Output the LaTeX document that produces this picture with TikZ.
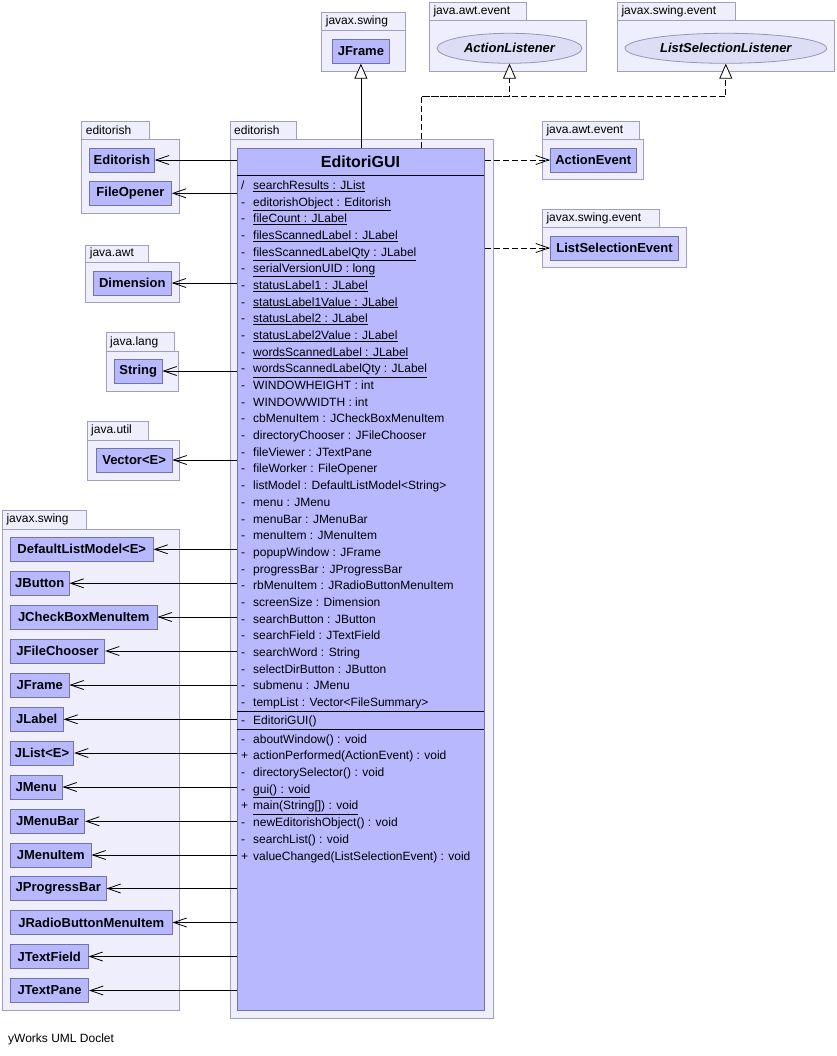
\documentclass[tikz,border=0pt]{standalone}
\usepackage{fontspec}
\setmainfont{Liberation Sans}
\usetikzlibrary{arrows.meta,shapes.geometric}
\definecolor{pkgfill}{RGB}{238,238,252}
\definecolor{pkgline}{RGB}{160,160,190}
\definecolor{clsfill}{RGB}{184,184,255}
\definecolor{clsline}{RGB}{115,115,165}
\definecolor{ellfill}{RGB}{221,221,245}
\definecolor{ellline}{RGB}{150,150,185}
\newcommand\pkgbox[7]{%
  \draw[pkgshape] (#1,#2) rectangle (#3,#4);
  \draw[pkgshape] (#1,#4) rectangle (#5,#6);
  \node[pkglabel] at (#1+4,{(#2+#4)/2}) {#7};}
\newcommand\attrrow[3]{%
  \node[vis] at (241,{189.4+16.68*#1}) {#2};
  \node[member] at (253,{189.4+16.68*#1}) {#3};}
\newcommand\methrow[3]{%
  \node[vis] at (241,{743.1+16.7*#1}) {#2};
  \node[member] at (253,{743.1+16.7*#1}) {#3};}
\begin{document}
\begin{tikzpicture}[x=1pt,y=-1pt,
  pkgshape/.style={fill=pkgfill,draw=pkgline,line width=0.8pt},
  pkglabel/.style={anchor=west,inner sep=0pt,font=\fontsize{12}{14}\selectfont},
  cls/.style={draw=clsline,fill=clsfill,line width=0.8pt,anchor=west,minimum height=24pt,inner xsep=2pt,inner ysep=0pt,font=\bfseries\fontsize{13}{15}\selectfont},
  iface/.style={ellipse,draw=ellline,fill=ellfill,line width=0.8pt,inner sep=0pt,font=\bfseries\itshape\fontsize{13}{15}\selectfont},
  vis/.style={anchor=base west,inner sep=0pt,font=\fontsize{12}{14}\selectfont},
  member/.style={anchor=base west,inner sep=0pt,font=\fontsize{12}{14}\selectfont},
  assoc/.style={line width=0.8pt,-{Straight Barb[length=13pt,width=9pt,line width=0.8pt]}},
  dep/.style={line width=0.8pt,dash pattern=on 6pt off 3pt,-{Straight Barb[length=13pt,width=9pt,line width=0.8pt]}},
  inherit/.style={line width=0.8pt,-{Triangle[length=15pt,width=13pt,open,fill=white,line width=0.8pt]}},
  realize/.style={line width=0.8pt,dash pattern=on 6pt off 3pt,-{Triangle[length=15pt,width=13pt,open,fill=white,line width=0.8pt]}}]
\useasboundingbox[fill=white] (0,0) rectangle (836,1056);
% packages
\pkgbox{321.7}{12.7}{405.7}{30}{405.7}{71.7}{javax.swing}
\pkgbox{429.3}{2.7}{526.7}{20.7}{586.7}{71.7}{java.awt.event}
\pkgbox{617.3}{2.7}{735}{20.7}{834}{71.7}{javax.swing.event}
\pkgbox{81.7}{121.7}{149}{139}{179.5}{213}{editorish}
\pkgbox{230}{121}{296.7}{139}{493}{1018}{editorish}
\pkgbox{542.3}{121.7}{639.3}{139.3}{643.3}{179.3}{java.awt.event}
\pkgbox{542.3}{209.3}{659.3}{227.3}{686}{267.3}{javax.swing.event}
\pkgbox{85.7}{245}{148}{262.7}{179}{302.7}{java.awt}
\pkgbox{106}{332.7}{174}{351.7}{178}{391}{java.lang}
\pkgbox{87}{421.7}{148}{440}{179}{480}{java.util}
\pkgbox{2.3}{510.7}{86}{529}{179.3}{1010}{javax.swing}
% main class
\node[draw=clsline,fill=clsfill,line width=0.8pt,anchor=north west,inner sep=0pt,minimum width=247pt,minimum height=862pt] (gui) at (237,148) {};
\node[font=\bfseries\fontsize{16}{18}\selectfont] (title) at (360.5,161.5) {EditoriGUI};
\draw[line width=0.8pt] (237,175) -- (484,175);
\draw[line width=0.8pt] (237,711) -- (484,711);
\draw[line width=0.8pt] (237,729) -- (484,729);
\attrrow{0}{/}{\underline{searchResults : JList}}
\attrrow{1}{-}{\underline{editorishObject : Editorish}}
\attrrow{2}{-}{\underline{fileCount : JLabel}}
\attrrow{3}{-}{\underline{filesScannedLabel : JLabel}}
\attrrow{4}{-}{\underline{filesScannedLabelQty : JLabel}}
\attrrow{5}{-}{\underline{serialVersionUID : long}}
\attrrow{6}{-}{\underline{statusLabel1 : JLabel}}
\attrrow{7}{-}{\underline{statusLabel1Value : JLabel}}
\attrrow{8}{-}{\underline{statusLabel2 : JLabel}}
\attrrow{9}{-}{\underline{statusLabel2Value : JLabel}}
\attrrow{10}{-}{\underline{wordsScannedLabel : JLabel}}
\attrrow{11}{-}{\underline{wordsScannedLabelQty : JLabel}}
\attrrow{12}{-}{WINDOWHEIGHT : int}
\attrrow{13}{-}{WINDOWWIDTH : int}
\attrrow{14}{-}{cbMenuItem : JCheckBoxMenuItem}
\attrrow{15}{-}{directoryChooser : JFileChooser}
\attrrow{16}{-}{fileViewer : JTextPane}
\attrrow{17}{-}{fileWorker : FileOpener}
\attrrow{18}{-}{listModel : DefaultListModel<String>}
\attrrow{19}{-}{menu : JMenu}
\attrrow{20}{-}{menuBar : JMenuBar}
\attrrow{21}{-}{menuItem : JMenuItem}
\attrrow{22}{-}{popupWindow : JFrame}
\attrrow{23}{-}{progressBar : JProgressBar}
\attrrow{24}{-}{rbMenuItem : JRadioButtonMenuItem}
\attrrow{25}{-}{screenSize : Dimension}
\attrrow{26}{-}{searchButton : JButton}
\attrrow{27}{-}{searchField : JTextField}
\attrrow{28}{-}{searchWord : String}
\attrrow{29}{-}{selectDirButton : JButton}
\attrrow{30}{-}{submenu : JMenu}
\attrrow{31}{-}{tempList : Vector<FileSummary>}
\node[vis] at (241,724.9) {-};
\node[member] at (253,724.9) {EditoriGUI()};
\methrow{0}{-}{aboutWindow() : void}
\methrow{1}{+}{actionPerformed(ActionEvent) : void}
\methrow{2}{-}{directorySelector() : void}
\methrow{3}{-}{\underline{gui() : void}}
\methrow{4}{+}{\underline{main(String[]) : void}}
\methrow{5}{-}{newEditorishObject() : void}
\methrow{6}{-}{searchList() : void}
\methrow{7}{+}{valueChanged(ListSelectionEvent) : void}
% top classes
\node[cls,minimum width=57.6pt] (jframetop) at (331.7,51.3) {JFrame};
\node[iface,minimum width=145pt,minimum height=30pt] (al) at (509.5,48.3) {ActionListener};
\node[iface,minimum width=201.7pt,minimum height=30pt] (lsl) at (725.8,48.3) {ListSelectionListener};
% right classes
\node[cls,minimum width=85.7pt] (ae) at (550,160) {ActionEvent};
\node[cls,minimum width=128.3pt] (lse) at (550,248) {ListSelectionEvent};
% left classes
\node[cls,minimum width=65pt] (edt) at (89,160) {Editorish};
\node[cls,minimum width=82pt] (fop) at (89,193.3) {FileOpener};
\node[cls,minimum width=78.3pt] (dim) at (92.7,283) {Dimension};
\node[cls,minimum width=47.7pt] (str) at (114,371) {String};
\node[cls,minimum width=76pt] (vec) at (95.7,460) {Vector<E>};
\node[cls,minimum width=142.7pt] (dlm) at (10,549.3) {DefaultListModel<E>};
\node[cls,minimum width=58.7pt] (jbt) at (10,583.3) {JButton};
\node[cls,minimum width=146.7pt] (jcb) at (10,617) {JCheckBoxMenuItem};
\node[cls,minimum width=94.3pt] (jfc) at (10,651) {JFileChooser};
\node[cls,minimum width=58.7pt] (jfr) at (10,685) {JFrame};
\node[cls,minimum width=52.7pt] (jlb) at (10,719.3) {JLabel};
\node[cls,minimum width=63.3pt] (jls) at (10,753) {JList<E>};
\node[cls,minimum width=51.7pt] (jmn) at (10,787) {JMenu};
\node[cls,minimum width=74.3pt] (jmb) at (10,821.3) {JMenuBar};
\node[cls,minimum width=80.7pt] (jmi) at (10,855) {JMenuItem};
\node[cls,minimum width=95.7pt] (jpb) at (10,888.5) {JProgressBar};
\node[cls,minimum width=161.7pt] (jrb) at (10,922.5) {JRadioButtonMenuItem};
\node[cls,minimum width=77.7pt] (jtf) at (10,956.5) {JTextField};
\node[cls,minimum width=78.3pt] (jtp) at (10,990.5) {JTextPane};
% connectors
\draw[inherit] (gui.north -| jframetop) -- (jframetop.south);
\coordinate (rbend) at (421.7,96.7);
\draw[realize] (gui.north -| rbend) -- (rbend) -| (al.south);
\draw[realize] (rbend) -| (lsl.south);
\draw[dep] (gui.east |- ae) -- (ae.west);
\draw[dep] (gui.east |- lse) -- (lse.west);
\foreach \n in {edt,fop,dim,str,vec,dlm,jbt,jcb,jfc,jfr,jlb,jls,jmn,jmb,jmi,jpb,jrb,jtf,jtp}
  \draw[assoc] (gui.west |- \n) -- (\n.east);
% footer
\node[anchor=west,inner sep=0pt,font=\fontsize{12}{14}\selectfont] (footer) at (8,1039.5) {yWorks UML Doclet};
\end{tikzpicture}
\end{document}
